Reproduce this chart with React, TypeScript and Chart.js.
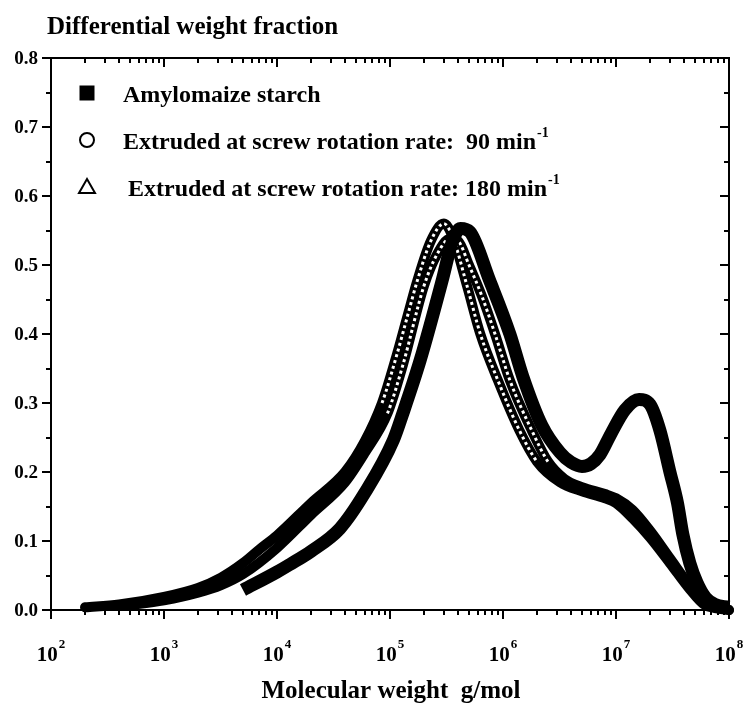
import React, { useEffect, useRef } from "react";
import { Chart, registerables } from "chart.js";

Chart.register(...registerables);

// ---- Data (molecular weight g/mol, differential weight fraction) ----
const amyloMW = [5.0e3, 1.0e4, 1.3e4, 2.0e4, 3.6e4, 6.0e4, 1.07e5, 1.3e5, 1.85e5, 2.9e5, 3.5e5, 4.2e5, 5.1e5, 7.6e5, 1.15e6, 1.5e6, 2.2e6, 3.2e6, 4.0e6, 5.0e6, 6.0e6, 7.2e6, 9.0e6, 1.2e7, 1.6e7, 2.0e7, 2.45e7, 3.0e7, 3.5e7, 3.9e7, 4.5e7, 5.2e7, 6.2e7, 7.5e7, 1.0e8];
const amyloFrac = [0.029, 0.055, 0.066, 0.085, 0.118, 0.17, 0.246, 0.285, 0.362, 0.478, 0.53, 0.553, 0.548, 0.478, 0.4, 0.338, 0.268, 0.228, 0.214, 0.208, 0.212, 0.225, 0.255, 0.29, 0.305, 0.298, 0.26, 0.2, 0.155, 0.11, 0.068, 0.04, 0.018, 0.008, 0.004];

const ext90MW = [2.0e2, 4.0e2, 1.0e3, 2.0e3, 3.2e3, 5.0e3, 7.0e3, 1.0e4, 2.0e4, 4.0e4, 6.0e4, 8.5e4, 1.15e5, 1.45e5, 1.75e5, 2.3e5, 3.0e5, 3.6e5, 4.8e5, 6.3e5, 9.0e5, 1.4e6, 2.0e6, 3.2e6, 5.0e6, 8.0e6, 1.0e7, 1.4e7, 2.0e7, 3.0e7, 4.5e7, 6.0e7, 8.0e7, 1.0e8];
const ext90Frac = [0.004, 0.008, 0.019, 0.032, 0.047, 0.068, 0.088, 0.108, 0.155, 0.2, 0.245, 0.3, 0.37, 0.43, 0.478, 0.535, 0.56, 0.54, 0.47, 0.4, 0.333, 0.26, 0.215, 0.185, 0.172, 0.162, 0.155, 0.133, 0.105, 0.068, 0.03, 0.008, 0.002, 0.0];

const ext180MW = [4.5e2, 1.0e3, 2.0e3, 3.2e3, 5.0e3, 1.0e4, 2.0e4, 4.0e4, 6.0e4, 9.5e4, 1.3e5, 2.0e5, 2.6e5, 3.4e5, 4.0e5, 5.0e5, 6.5e5, 8.5e5, 1.15e6, 1.8e6, 2.5e6, 3.5e6, 5.0e6, 8.0e6, 1.0e7, 1.4e7, 2.0e7, 3.0e7, 4.5e7, 6.0e7, 8.0e7, 1.0e8];
const ext180Frac = [0.006, 0.014, 0.025, 0.036, 0.052, 0.09, 0.138, 0.185, 0.228, 0.285, 0.355, 0.47, 0.515, 0.538, 0.535, 0.5, 0.455, 0.4, 0.333, 0.26, 0.215, 0.19, 0.178, 0.168, 0.162, 0.145, 0.115, 0.075, 0.035, 0.01, 0.003, 0.0];

// ---- Axis / text ----
const xDecades = [1e2, 1e3, 1e4, 1e5, 1e6, 1e7, 1e8];
const xDecadeExps = ["2", "3", "4", "5", "6", "7", "8"];
const yTickValues = [0, 0.1, 0.2, 0.3, 0.4, 0.5, 0.6, 0.7, 0.8];
const yTickLabels = ["0.0", "0.1", "0.2", "0.3", "0.4", "0.5", "0.6", "0.7", "0.8"];
const yTitle = "Differential weight fraction";
const xTitle = "Molecular weight  g/mol";
const legendTexts = ["Amylomaize starch", "Extruded at screw rotation rate:  90 min", "Extruded at screw rotation rate: 180 min"];
const legendSups = ["", "-1", "-1"];
// range of molecular weight where the open-marker chains are distinguishable
const openMarkerRange = [7e4, 2.5e6];

const FONT = '"Liberation Serif", "Times New Roman", serif';

function line(ctx: CanvasRenderingContext2D, x1: number, y1: number, x2: number, y2: number) {
  ctx.beginPath();
  ctx.moveTo(x1, y1);
  ctx.lineTo(x2, y2);
  ctx.stroke();
}

const axesPlugin = {
  id: "axesPlugin",
  beforeDatasetsDraw(chart: any) {
    const { ctx, chartArea: a, scales } = chart;
    const xs = scales.x;
    const ys = scales.y;
    ctx.save();
    ctx.strokeStyle = "#000";
    ctx.lineWidth = 2;
    ctx.strokeRect(a.left, a.top, a.right - a.left, a.bottom - a.top);
    for (let d = 0; d < xDecades.length; d++) {
      const base = xDecades[d];
      const px = Math.round(xs.getPixelForValue(base));
      line(ctx, px, a.bottom, px, a.bottom + 9);
      line(ctx, px, a.top, px, a.top + 9);
      if (d < xDecades.length - 1) {
        for (let m = 2; m <= 9; m++) {
          const p = Math.round(xs.getPixelForValue(base * m));
          line(ctx, p, a.bottom, p, a.bottom + 5);
          line(ctx, p, a.top, p, a.top + 5);
        }
      }
    }
    for (let i = 0; i < yTickValues.length; i++) {
      const py = Math.round(ys.getPixelForValue(yTickValues[i]));
      line(ctx, a.left - 9, py, a.left, py);
      line(ctx, a.right - 9, py, a.right, py);
      if (i < yTickValues.length - 1) {
        const pm = Math.round(ys.getPixelForValue((yTickValues[i] + yTickValues[i + 1]) / 2));
        line(ctx, a.left - 5, pm, a.left, pm);
        line(ctx, a.right - 5, pm, a.right, pm);
      }
    }
    ctx.restore();
  },
  afterDraw(chart: any) {
    const { ctx, chartArea: a, scales } = chart;
    const xs = scales.x;
    const ys = scales.y;
    ctx.save();
    ctx.fillStyle = "#000";
    ctx.strokeStyle = "#000";
    ctx.font = `bold 19px ${FONT}`;
    ctx.textAlign = "right";
    ctx.textBaseline = "middle";
    yTickValues.forEach((v, i) => {
      ctx.fillText(yTickLabels[i], a.left - 13, ys.getPixelForValue(v) + 1);
    });
    ctx.textBaseline = "alphabetic";
    ctx.textAlign = "left";
    xDecades.forEach((v, i) => {
      const px = xs.getPixelForValue(v);
      ctx.font = `bold 21px ${FONT}`;
      const w1 = ctx.measureText("10").width;
      ctx.font = `bold 13px ${FONT}`;
      const w2 = ctx.measureText(xDecadeExps[i]).width;
      const x0 = px - (w1 + w2 + 1) / 2;
      ctx.font = `bold 21px ${FONT}`;
      ctx.fillText("10", x0, 661);
      ctx.font = `bold 13px ${FONT}`;
      ctx.fillText(xDecadeExps[i], x0 + w1 + 1, 648);
    });
    ctx.font = `bold 25px ${FONT}`;
    ctx.textAlign = "left";
    ctx.fillText(yTitle, 47, 34);
    ctx.font = `bold 25px ${FONT}`;
    ctx.textAlign = "center";
    ctx.fillText(xTitle, (a.left + a.right) / 2 + 1, 698);
    const rowsY = [93, 140, 187];
    const textX = [123, 123, 128];
    const mx = 87;
    ctx.fillRect(mx - 7.5, rowsY[0] - 7.5, 15, 15);
    ctx.lineWidth = 2;
    ctx.beginPath();
    ctx.arc(mx, rowsY[1], 7, 0, Math.PI * 2);
    ctx.stroke();
    ctx.beginPath();
    ctx.moveTo(mx, rowsY[2] - 8);
    ctx.lineTo(mx + 8, rowsY[2] + 6);
    ctx.lineTo(mx - 8, rowsY[2] + 6);
    ctx.closePath();
    ctx.stroke();
    ctx.textAlign = "left";
    ctx.textBaseline = "alphabetic";
    legendTexts.forEach((t, i) => {
      ctx.font = `bold 24px ${FONT}`;
      ctx.fillText(t, textX[i], rowsY[i] + 9);
      if (legendSups[i]) {
        const w = ctx.measureText(t).width;
        ctx.font = `bold 14px ${FONT}`;
        ctx.fillText(legendSups[i], textX[i] + w + 1, rowsY[i] - 3);
      }
    });
    ctx.restore();
  },
};

export default function App() {
  const canvasRef = useRef<HTMLCanvasElement | null>(null);
  useEffect(() => {
    const canvas = canvasRef.current;
    if (!canvas) return;
    const mk = (mw: number[], fr: number[]) => mw.map((m, i) => ({ x: m, y: fr[i] }));
    const common = {
      borderColor: "#000",
      pointRadius: 0,
      cubicInterpolationMode: "monotone",
      fill: false,
      clip: false,
      borderJoinStyle: "round",
    };
    const holes = (mw: number[]) => ({
      ...common,
      borderWidth: 3,
      borderDash: [3, 3],
      borderCapStyle: "butt",
      segment: {
        borderColor: (c: any) =>
          mw[c.p0DataIndex] >= openMarkerRange[0] && mw[c.p1DataIndex] <= openMarkerRange[1] ? "#fff" : "rgba(0,0,0,0)",
      },
    });
    const chart = new Chart(canvas, {
      type: "line",
      data: {
        datasets: [
          { ...common, label: "Amylomaize starch", data: mk(amyloMW, amyloFrac), borderWidth: 13, borderCapStyle: "butt" },
          { ...holes(ext90MW), label: "_holes90", data: mk(ext90MW, ext90Frac) },
          { ...holes(ext180MW), label: "_holes180", data: mk(ext180MW, ext180Frac) },
          { ...common, label: "Extruded at screw rotation rate: 90 min-1", data: mk(ext90MW, ext90Frac), borderWidth: 10, borderCapStyle: "round" },
          { ...common, label: "Extruded at screw rotation rate: 180 min-1", data: mk(ext180MW, ext180Frac), borderWidth: 10, borderCapStyle: "round" },
        ],
      } as any,
      options: {
        responsive: false,
        animation: false,
        devicePixelRatio: 1,
        layout: { padding: { left: 51, right: 14, top: 58, bottom: 98 } },
        scales: {
          x: { type: "logarithmic", min: 100, max: 1e8, display: false },
          y: { type: "linear", min: 0, max: 0.8, display: false },
        },
        plugins: { legend: { display: false }, tooltip: { enabled: false } },
        events: [],
      } as any,
      plugins: [axesPlugin],
    });
    return () => chart.destroy();
  }, []);
  return (
    <div style={{ position: "fixed", left: 0, top: 0, width: 743, height: 708, background: "#fff" }}>
      <canvas ref={canvasRef} width={743} height={708} style={{ display: "block", width: 743, height: 708 }} />
    </div>
  );
}
